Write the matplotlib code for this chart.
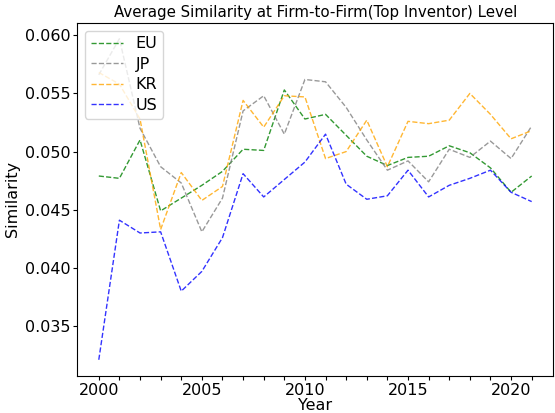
import matplotlib
matplotlib.use("Agg")
import matplotlib.pyplot as plt

years = list(range(2000, 2022))

eu = [0.0479, 0.0477, 0.0510, 0.0449, 0.0460, 0.0471, 0.0483, 0.0502, 0.0501, 0.0553,
      0.0528, 0.0532, 0.0514, 0.0496, 0.0488, 0.0495, 0.0496, 0.0505, 0.0499, 0.0486,
      0.0465, 0.0479]
jp = [0.0566, 0.0597, 0.0520, 0.0487, 0.0473, 0.0431, 0.0460, 0.0535, 0.0548, 0.0515,
      0.0562, 0.0560, 0.0538, 0.0510, 0.0484, 0.0492, 0.0474, 0.0502, 0.0495, 0.0509,
      0.0494, 0.0522]
kr = [0.0568, 0.0558, 0.0528, 0.0433, 0.0482, 0.0458, 0.0470, 0.0544, 0.0521, 0.0548,
      0.0547, 0.0494, 0.0500, 0.0527, 0.0487, 0.0526, 0.0524, 0.0527, 0.0550, 0.0532,
      0.0511, 0.0518]
us = [0.0321, 0.0441, 0.0430, 0.0431, 0.0380, 0.0397, 0.0426, 0.0481, 0.0461, 0.0476,
      0.0491, 0.0515, 0.0472, 0.0459, 0.0462, 0.0484, 0.0461, 0.0471, 0.0477, 0.0484,
      0.0465, 0.0457]

series = [("EU", eu, "green"), ("JP", jp, "gray"), ("KR", kr, "orange"), ("US", us, "blue")]

fig, ax = plt.subplots(figsize=(5.55, 4.13), dpi=100)
for name, vals, color in series:
    ax.plot(years, vals, linestyle="--", color=color, alpha=0.8, linewidth=1, label=name)

ax.set_title("Average Similarity at Firm-to-Firm(Top Inventor) Level", fontsize=10.8, pad=4)
ax.set_xlabel("Year", fontsize=11.5, labelpad=0)
ax.set_ylabel("Similarity", fontsize=11.5, labelpad=3)
ax.set_xticks(years)
ax.set_xticklabels([str(y) if y % 5 == 0 else "" for y in years])
ax.tick_params(labelsize=11.5, length=3, pad=2)
ax.legend(loc="upper left", fontsize=11.5, handlelength=2.0, borderaxespad=0.5,
          labelspacing=0.35, borderpad=0.35)
fig.subplots_adjust(left=0.139, right=0.997, top=0.945, bottom=0.09)
fig.savefig("out.png", dpi=100)
